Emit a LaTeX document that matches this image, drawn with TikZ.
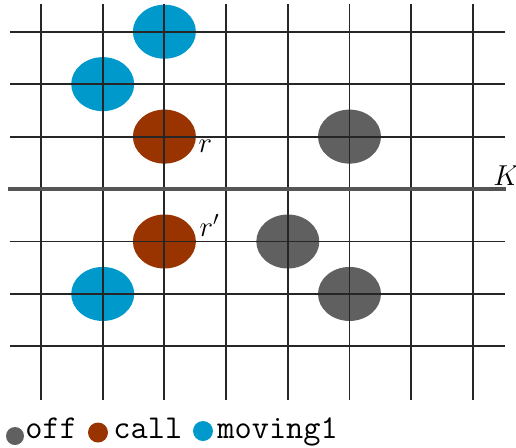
\documentclass[tikz,border=0pt]{standalone}
\usetikzlibrary{shapes.geometric, positioning}
\definecolor{offgray}{RGB}{96, 96, 96}
\definecolor{callbrown}{RGB}{153, 51, 0}
\definecolor{movingblue}{RGB}{0, 153, 204}
\definecolor{kgray}{RGB}{85, 85, 85}

\begin{document}
\begin{tikzpicture}[x=0.5pt, y=-0.5pt,
  agent/.style={ellipse, minimum width=31.5pt, minimum height=27pt, inner sep=0pt},
  gridline/.style={black!85, line width=0.95pt},
  legenddot/.style={circle, minimum size=10pt, inner sep=0pt},
  legendtext/.style={font=\fontsize{16.7}{19}\selectfont\ttfamily, inner sep=0pt, anchor=base west},
  mathlabel/.style={font=\fontsize{14}{16}\selectfont, inner sep=0pt, anchor=base west}]

  \useasboundingbox (0,0) rectangle (516,447);

  % Gitterpunkte (Spalte i, Zeile j)
  \pgfmathsetmacro{\dx}{61.7}
  \pgfmathsetmacro{\dy}{52.45}
  \foreach \i in {0,...,7}
    \foreach \j in {0,...,6}
      \coordinate (g-\i-\j) at ({41+\dx*\i},{31.7+\dy*\j});

  % Agenten
  \node[agent, fill=movingblue] (mova) at (g-2-0) {};
  \node[agent, fill=movingblue] (movb) at (g-1-1) {};
  \node[agent, fill=movingblue] (movc) at (g-1-5) {};
  \node[agent, fill=callbrown] (callr) at (g-2-2) {};
  \node[agent, fill=callbrown] (callrp) at (g-2-4) {};
  \node[agent, fill=offgray] (offa) at (g-5-2) {};
  \node[agent, fill=offgray] (offb) at (g-4-4) {};
  \node[agent, fill=offgray] (offc) at (g-5-5) {};

  % Gitter
  \foreach \i in {0,...,7}
    \draw[gridline] ({41+\dx*\i},4) -- ({41+\dx*\i},400);
  \foreach \j in {0,1,2,4,5,6}
    \draw[gridline] (10,{31.7+\dy*\j}) -- (505,{31.7+\dy*\j});

  % Grenze K
  \coordinate (kstart) at (8,{31.7+3*\dy});
  \coordinate (kend) at (506,{31.7+3*\dy});
  \draw[kgray, line width=2pt] (kstart) -- (kend);
  \node[mathlabel] (klab) at ([xshift=-6.5pt,yshift=2pt]kend) {$K$};

  % Beschriftungen r, r'
  \node[mathlabel] (rlab) at ([xshift=1pt,yshift=-8pt]callr.east) {$r$};
  \node[mathlabel] (rplab) at ([xshift=1.5pt,yshift=2.75pt]callrp.east) {$r'$};

  % Legende
  \node[legenddot, fill=offgray, minimum size=9pt] (offdot) at (15,436) {};
  \node[legendtext] (offtxt) at (25,438.3) {off};
  \node[legenddot, fill=callbrown] (calldot) at (98,432.5) {};
  \node[legendtext] (calltxt) at (113,438.3) {call};
  \node[legenddot, fill=movingblue] (movdot) at (203,431) {};
  \node[legendtext] (movtxt) at (217,438.3) {moving1};

\end{tikzpicture}
\end{document}
